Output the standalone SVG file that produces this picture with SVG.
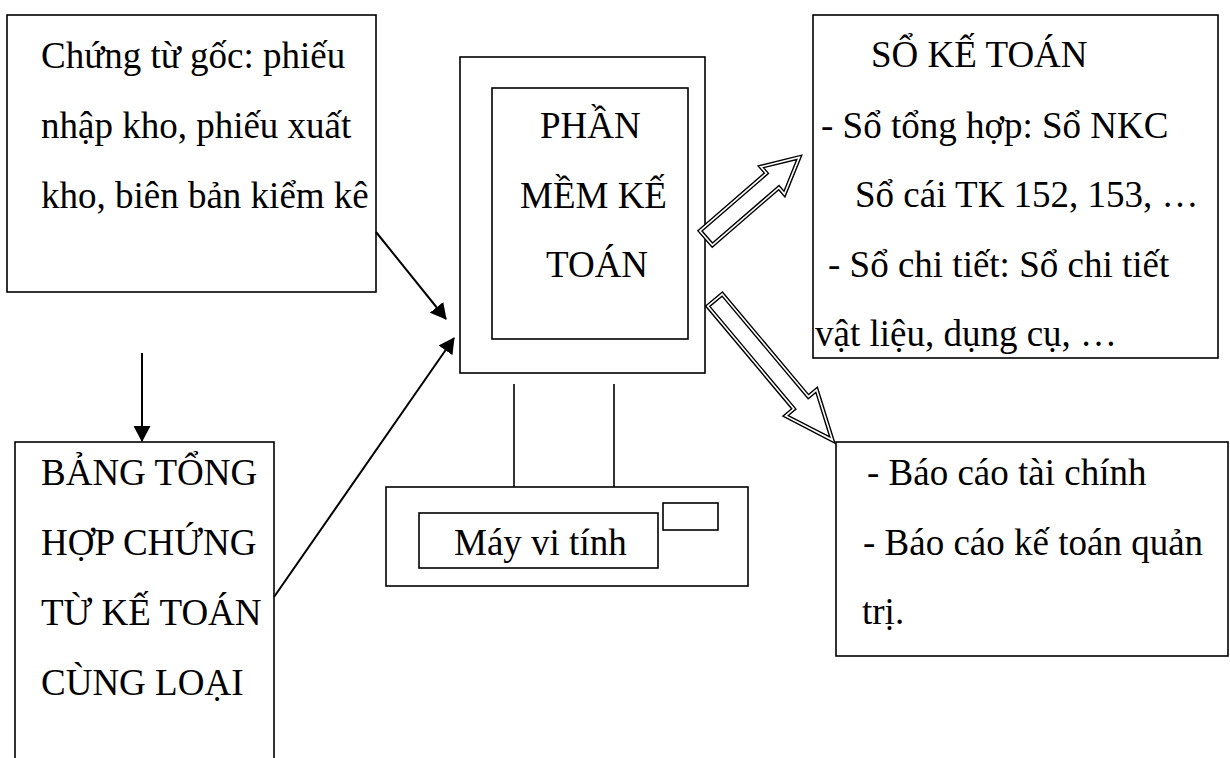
<svg xmlns="http://www.w3.org/2000/svg" width="1230" height="758" viewBox="0 0 1230 758">
  <style>
    .box { fill: #fff; stroke: #000; stroke-width: 1.6; }
    .thin { fill: none; stroke: #000; stroke-width: 1.6; }
    .lbl { font-family: "Liberation Serif", "Times New Roman", serif; font-size: 37px; fill: #000; }
    .conn { fill: none; stroke: #000; stroke-width: 2; }
    .hollow { fill: #fff; stroke: #000; stroke-width: 1.4; stroke-linejoin: miter; }
    .hollow-in { fill: none; stroke: #000; stroke-width: 1.4; stroke-linejoin: miter; }
  </style>
  <defs>
    <marker id="head" viewBox="0 0 16 17" refX="15" refY="8.5" markerWidth="16" markerHeight="17" markerUnits="userSpaceOnUse" orient="auto">
      <path d="M0,0 L16,8.5 L0,17 z" fill="#000"/>
    </marker>
  </defs>

  <rect width="1230" height="758" fill="#fff"/>

  <!-- source documents -->
  <g id="chung-tu-goc">
    <rect class="box" x="7" y="15" width="369" height="277"/>
    <text class="lbl" x="41" y="68">Chứng từ gốc: phiếu</text>
    <text class="lbl" x="41" y="138">nhập kho, phiếu xuất</text>
    <text class="lbl" x="41" y="208">kho, biên bản kiểm kê</text>
  </g>

  <!-- summary of vouchers -->
  <g id="bang-tong-hop">
    <rect class="box" x="15" y="442" width="259" height="340"/>
    <text class="lbl" x="41" y="485">BẢNG TỔNG</text>
    <text class="lbl" x="41" y="555">HỢP CHỨNG</text>
    <text class="lbl" x="41" y="625">TỪ KẾ TOÁN</text>
    <text class="lbl" x="41" y="695">CÙNG LOẠI</text>
  </g>

  <!-- computer: monitor with accounting software -->
  <g id="phan-mem">
    <rect class="box" x="460" y="57" width="245" height="316"/>
    <rect class="box" x="492" y="88" width="196" height="251"/>
    <text class="lbl" x="540" y="138">PHẦN</text>
    <text class="lbl" x="520" y="208">MỀM KẾ</text>
    <text class="lbl" x="546" y="277">TOÁN</text>
    <line class="thin" x1="514" y1="384" x2="514" y2="487"/>
    <line class="thin" x1="614" y1="384" x2="614" y2="487"/>
  </g>

  <!-- computer case -->
  <g id="may-vi-tinh">
    <rect class="box" x="386" y="487" width="362" height="99"/>
    <rect class="box" x="419" y="513" width="239" height="55"/>
    <rect class="box" x="663" y="503" width="55" height="27"/>
    <text class="lbl" x="454" y="555">Máy vi tính</text>
  </g>

  <!-- accounting books -->
  <g id="so-ke-toan">
    <rect class="box" x="813" y="15" width="405" height="343"/>
    <text class="lbl" x="871" y="67">SỔ KẾ TOÁN</text>
    <text class="lbl" x="821" y="138">- Sổ tổng hợp: Sổ NKC</text>
    <text class="lbl" x="855" y="207">Sổ cái TK 152, 153, …</text>
    <text class="lbl" x="828" y="277">- Sổ chi tiết: Sổ chi tiết</text>
    <text class="lbl" x="815" y="346">vật liệu, dụng cụ, …</text>
  </g>

  <!-- reports -->
  <g id="bao-cao">
    <rect class="box" x="836" y="442" width="392" height="214"/>
    <text class="lbl" x="867" y="485">- Báo cáo tài chính</text>
    <text class="lbl" x="863" y="555">- Báo cáo kế toán quản</text>
    <text class="lbl" x="862" y="624">trị.</text>
  </g>

  <!-- connectors -->
  <g id="connectors">
    <line class="conn" x1="142" y1="353" x2="142" y2="441" marker-end="url(#head)"/>
    <line class="conn" x1="376" y1="232" x2="446" y2="319" marker-end="url(#head)"/>
    <line class="conn" x1="274" y1="597" x2="454" y2="338" marker-end="url(#head)"/>
    <!-- double-outlined block arrow: software to books -->
    <g transform="translate(705,239) rotate(-40.9)">
      <polygon class="hollow" points="0,-11 88,-11 88,-20.5 128,0 88,20.5 88,11 0,11"/>
      <polygon class="hollow-in" points="3,-8 91,-8 91,-15.6 121.4,0 91,15.6 91,8 3,8"/>
    </g>
    <!-- double-outlined block arrow: software to reports -->
    <g transform="translate(714,299) rotate(50)">
      <polygon class="hollow" points="0,-11 134,-11 134,-22.5 188,0 134,22.5 134,11 0,11"/>
      <polygon class="hollow-in" points="3,-8 137,-8 137,-18 180.1,0 137,18 137,8 3,8"/>
    </g>
  </g>
</svg>
